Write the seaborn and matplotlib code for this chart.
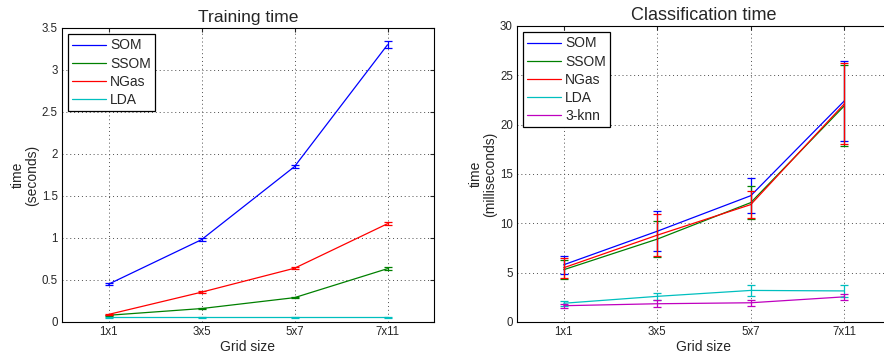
import numpy as np
import pandas as pd
import matplotlib
matplotlib.use("Agg")
import matplotlib.pyplot as plt
import seaborn as sns

grid_labels = ["1x1", "3x5", "5x7", "7x11"]

train_som = [0.45, 0.98, 1.85, 3.30]
train_som_err = [0.01, 0.015, 0.02, 0.04]
train_ssom = [0.08, 0.16, 0.29, 0.635]
train_ssom_err = [0.005, 0.01, 0.01, 0.02]
train_ngas = [0.09, 0.355, 0.64, 1.17]
train_ngas_err = [0.01, 0.01, 0.01, 0.02]
train_lda = [0.055, 0.055, 0.055, 0.055]
train_lda_err = [0.003, 0.003, 0.003, 0.003]

cls_som = [5.8, 9.2, 12.8, 22.4]
cls_som_err = [0.9, 2.0, 1.8, 4.1]
cls_ssom = [5.3, 8.4, 12.1, 21.9]
cls_ssom_err = [0.95, 1.8, 1.7, 4.1]
cls_ngas = [5.5, 8.8, 11.9, 22.1]
cls_ngas_err = [1.0, 2.15, 1.4, 4.1]
cls_lda = [1.9, 2.6, 3.2, 3.15]
cls_lda_err = [0.25, 0.35, 0.6, 0.6]
cls_knn = [1.65, 1.85, 1.95, 2.55]
cls_knn_err = [0.2, 0.35, 0.3, 0.3]

colors = {"SOM": (0, 0, 1), "SSOM": (0, 0.5, 0), "NGas": (1, 0, 0),
          "LDA": (0, 0.75, 0.75), "3-knn": (0.75, 0, 0.75)}

sns.set_style("white")
plt.rcParams["font.family"] = ["Liberation Sans", "DejaVu Sans"]
plt.rcParams["axes.unicode_minus"] = False

fig = plt.figure(figsize=(8.84, 3.6), dpi=100)
ax1 = fig.add_axes([62/884, 1-322/360, (434-62)/884, (322-28)/360])
ax2 = fig.add_axes([517/884, 1-322/360, (891-517)/884, (322-26)/360])

def build(series):
    rows = []
    for name, vals, errs in series:
        for i, (v, e) in enumerate(zip(vals, errs)):
            rows.append({"x": i + 1, "y": v, "err": e, "series": name})
    return pd.DataFrame(rows)

train = build([("SOM", train_som, train_som_err), ("SSOM", train_ssom, train_ssom_err),
               ("NGas", train_ngas, train_ngas_err), ("LDA", train_lda, train_lda_err)])
cls = build([("SOM", cls_som, cls_som_err), ("SSOM", cls_ssom, cls_ssom_err),
             ("NGas", cls_ngas, cls_ngas_err), ("LDA", cls_lda, cls_lda_err),
             ("3-knn", cls_knn, cls_knn_err)])

def draw(ax, df, title, title_size, ylabel, ylim, yticks, yticklabels):
    order = list(dict.fromkeys(df["series"]))
    sns.lineplot(data=df, x="x", y="y", hue="series", hue_order=order,
                 palette=[colors[s] for s in order], ax=ax, linewidth=0.9,
                 errorbar=None, legend=True)
    for s in order:
        d = df[df["series"] == s]
        ax.errorbar(d["x"], d["y"], yerr=d["err"], fmt="none", ecolor=colors[s],
                    elinewidth=0.9, capsize=2.6, capthick=0.9)
    ax.set_xlim(0.5, 4.5)
    ax.set_ylim(*ylim)
    ax.set_xticks([1, 2, 3, 4])
    ax.set_xticklabels(grid_labels)
    ax.set_yticks(yticks)
    ax.set_yticklabels(yticklabels)
    ax.grid(True, linestyle=(0, (1, 3)), color="0.3", linewidth=0.7)
    ax.tick_params(direction="in", length=3, labelsize=8.3, top=True, right=True, pad=3)
    for sp in ax.spines.values():
        sp.set_visible(True)
        sp.set_color("black")
        sp.set_linewidth(0.8)
    ax.set_title(title, fontsize=title_size, pad=4)
    ax.set_xlabel("Grid size", fontsize=10, labelpad=1)
    ax.set_ylabel(ylabel, fontsize=10, labelpad=2, linespacing=1.0)
    leg = ax.legend(loc="upper left", fontsize=10, frameon=True, fancybox=False,
                    edgecolor="black", handlelength=2.4, borderpad=0.3,
                    labelspacing=0.3, handletextpad=0.3, borderaxespad=0.45)
    leg.get_frame().set_linewidth(0.9)
    leg.get_frame().set_alpha(1)

draw(ax1, train, "Training time", 12.6, "time\n(seconds)", (0, 3.5),
     np.arange(0, 3.51, 0.5), ["0", "0.5", "1", "1.5", "2", "2.5", "3", "3.5"])
draw(ax2, cls, "Classification time", 13, "time\n(milliseconds)", (0, 30),
     np.arange(0, 31, 5), ["0", "5", "10", "15", "20", "25", "30"])

fig.savefig("out.png", dpi=100)
